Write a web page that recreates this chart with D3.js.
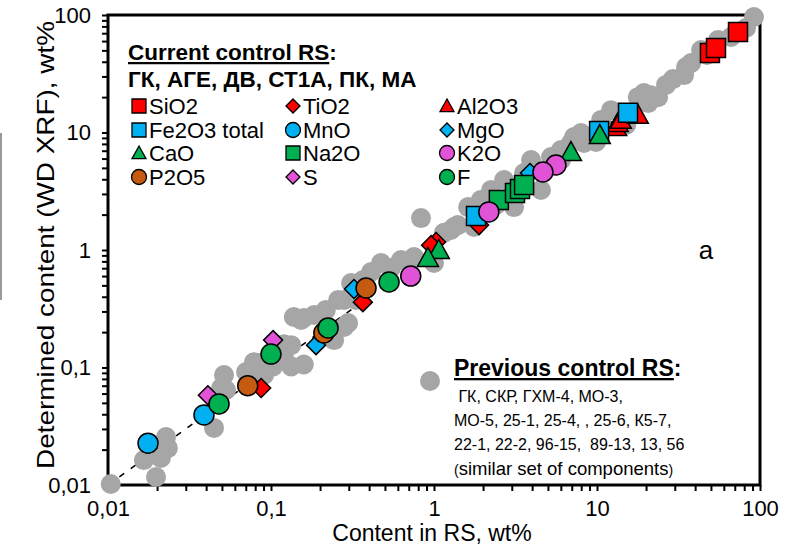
<!DOCTYPE html>
<html>
<head>
<meta charset="utf-8">
<script src="https://cdn.jsdelivr.net/npm/d3@7"></script>
<style>
body { margin: 0; background: #fff; }
svg { font-family: Arial, "Liberation Sans", sans-serif; }
</style>
</head>
<body>
<div id="chartDiv"></div>
<script>
// tick labels (comma decimals as in the original)
var tickVals = [0.01, 0.1, 1, 10, 100];
var tickLabels = ["0,01", "0,1", "1", "10", "100"];

// previous control RS (grey cloud): [content in RS, determined]
var previous = [
    [0.0104, 0.0102], [0.0197, 0.0117], [0.0166, 0.0163], [0.0211, 0.0170], [0.0227, 0.0256],
    [0.0233, 0.0206], [0.0447, 0.0306], [0.0494, 0.0669], [0.0515, 0.0863], [0.053, 0.0644],
    [0.0703, 0.0916], [0.0786, 0.111], [0.0832, 0.109], [0.0906, 0.0863], [0.103, 0.102],
    [0.120, 0.158], [0.120, 0.123], [0.133, 0.102], [0.133, 0.155], [0.159, 0.106],
    [0.159, 0.264], [0.153, 0.254], [0.138, 0.269], [0.184, 0.280], [0.244, 0.171],
    [0.258, 0.375], [0.281, 0.221], [0.297, 0.239], [0.281, 0.375], [0.217, 0.309],
    [0.332, 0.375], [0.367, 0.555], [0.310, 0.524], [0.411, 0.650], [0.473, 0.775],
    [0.545, 0.703], [0.628, 0.822], [0.754, 0.872], [0.832, 1.87], [1.0, 0.775],
    [1.15, 1.40], [1.27, 1.48], [1.33, 1.57], [1.40, 1.63], [1.62, 2.32], [1.76, 1.57],
    [1.94, 2.67], [2.24, 3.24], [2.40, 2.42], [2.69, 3.94], [3.10, 2.32], [3.57, 4.52],
    [3.94, 5.83], [4.53, 3.24], [5.22, 6.19], [6.01, 5.83], [6.01, 7.1], [6.92, 8.14],
    [7.22, 9.16], [7.98, 9.9], [8.32, 8.14], [9.86, 8.3], [10.6, 12.8], [12.2, 15.5],
    [14.0, 14.7], [15.1, 11.6], [17.8, 20.0], [19.4, 21.7], [20.6, 17.8], [21.4, 20.8],
    [23.7, 20.0], [26.5, 25.4], [29.2, 28.5], [34.2, 30.8], [35.2, 36.1], [37.8, 39.0],
    [43.5, 50.3], [47.3, 45.7], [55.2, 61.3], [66.4, 65.0], [82.1, 77.5], [91.8, 96.2]
];

// current control RS, one array per component
var sio2 = [[49.3, 47.5], [53.7, 52.4], [73.3, 71.7]];
var tio2 = [[1.03, 1.17], [0.96, 1.10], [0.366, 0.36], [0.087, 0.067], [1.89, 1.63]];
var al2o3 = [[13.1, 11.1], [13.4, 12.0], [14.0, 12.8], [17.8, 14.1]];
var fe2o3 = [[15.5, 14.7], [10.3, 10.3], [1.81, 1.95]];
var mno = [[0.0388, 0.0395], [0.0176, 0.0227]];
var mgo = [[3.88, 4.52], [0.323, 0.466], [0.189, 0.155]];
var cao = [[6.92, 6.82], [10.4, 9.5], [1.07, 1.0], [0.918, 0.855]];
var na2o = [[2.50, 2.67], [3.14, 3.05], [3.37, 3.30], [3.57, 3.57]];
var k2o = [[5.60, 5.29], [4.66, 4.61], [2.17, 2.11], [0.72, 0.60]];
var p2o5 = [[0.383, 0.475], [0.211, 0.197], [0.072, 0.070]];
var sulf = [[0.103, 0.171], [0.041, 0.058]];
var fluor = [[0.224, 0.217], [0.10, 0.130], [0.048, 0.049], [0.530, 0.534]];

var seriesNames = ["SiO2", "TiO2", "Al2O3", "Fe2O3 total", "MnO", "MgO", "CaO", "Na2O", "K2O", "P2O5", "S", "F"];
var seriesData = [sio2, tio2, al2o3, fe2o3, mno, mgo, cao, na2o, k2o, p2o5, sulf, fluor];
var seriesShape = ["square", "diamond", "triangle", "square", "circle", "diamond", "triangle", "square", "circle", "circle", "diamond", "circle"];
var seriesColor = ["#ff0000", "#ff0000", "#ff0000", "#00b0f0", "#00b0f0", "#00b0f0", "#00b050", "#00b050", "#e052d6", "#c55a11", "#e052d6", "#00b050"];

var width = 798, height = 552;
// plot box (note: "top" is taken by window.top, so prefixed names)
var pLeft = 108, pRight = 760, pTop = 15, pBottom = 485;

var svg = d3.select("#chartDiv")
    .append("svg")
    .attr("width", width)
    .attr("height", height);

var x = d3.scaleLog().domain([0.01, 100]).range([pLeft, pRight]);
var y = d3.scaleLog().domain([0.01, 100]).range([pBottom, pTop]);

// marker shapes, sized by full width in px
function shapePath(shape, s) {
    var h = s / 2;
    if (shape == "square") return "M" + (-h) + "," + (-h) + "h" + s + "v" + s + "h" + (-s) + "Z";
    if (shape == "diamond") return "M0," + (-h) + "L" + h + ",0L0," + h + "L" + (-h) + ",0Z";
    if (shape == "triangle") return "M0," + (-h) + "L" + h + "," + (h * 0.8) + "L" + (-h) + "," + (h * 0.8) + "Z";
    return "M" + (-h) + ",0a" + h + "," + h + " 0 1,0 " + s + ",0a" + h + "," + h + " 0 1,0 " + (-s) + ",0Z";
}
var markSize = {square: 19, diamond: 19, triangle: 21, circle: 20};

// stray grey bar at the left edge of the original picture
svg.append("rect").attr("x", 0).attr("y", 133).attr("width", 2).attr("height", 167).attr("fill", "#9a9a9a");

// 1:1 dashed line
svg.append("line")
    .attr("x1", x(0.01)).attr("y1", y(0.01))
    .attr("x2", x(100)).attr("y2", y(100))
    .attr("stroke", "#000")
    .attr("stroke-width", 1.6)
    .attr("stroke-dasharray", "6,8");

// axes
var fmt = function (d) {
    var i = tickVals.indexOf(d);
    return i >= 0 ? tickLabels[i] : "";
};
var xAxis = svg.append("g")
    .attr("transform", "translate(0," + pBottom + ")")
    .call(d3.axisBottom(x).tickValues(x.ticks()).tickFormat(fmt).tickSize(6).tickPadding(9));
var yAxis = svg.append("g")
    .attr("transform", "translate(" + pLeft + ",0)")
    .call(d3.axisLeft(y).tickValues(y.ticks()).tickFormat(fmt).tickSize(6).tickPadding(11));

[xAxis, yAxis].forEach(function (ax) {
    ax.select(".domain").remove();
    ax.selectAll("line").attr("stroke", "#000").attr("stroke-width", 2);
    ax.selectAll("text")
        .style("font-size", "22px")
        .style("font-family", "Arial, 'Liberation Sans', sans-serif")
        .attr("fill", "#000");
});

// frame
svg.append("rect")
    .attr("x", pLeft).attr("y", pTop)
    .attr("width", pRight - pLeft).attr("height", pBottom - pTop)
    .attr("fill", "none")
    .attr("stroke", "#000")
    .attr("stroke-width", 3);

// previous control RS
svg.append("g")
    .selectAll("circle")
    .data(previous)
    .enter().append("circle")
    .attr("cx", function (d) { return x(d[0]); })
    .attr("cy", function (d) { return y(d[1]); })
    .attr("r", 10)
    .attr("fill", "#a6a6a6");

// current control RS
seriesData.forEach(function (data, i) {
    svg.append("g")
        .selectAll("path")
        .data(data)
        .enter().append("path")
        .attr("d", shapePath(seriesShape[i], markSize[seriesShape[i]]))
        .attr("transform", function (d) { return "translate(" + x(d[0]) + "," + y(d[1]) + ")"; })
        .attr("fill", seriesColor[i])
        .attr("stroke", "#000")
        .attr("stroke-width", 1.5);
});

// axis titles
svg.append("text")
    .attr("x", 432).attr("y", 541)
    .attr("text-anchor", "middle")
    .style("font-size", "23px")
    .text("Content  in RS, wt%");
svg.append("text")
    .attr("transform", "translate(54,245) rotate(-90)")
    .attr("text-anchor", "middle")
    .attr("textLength", 448)
    .attr("lengthAdjust", "spacingAndGlyphs")
    .style("font-size", "24px")
    .text("Determined content (WD XRF), wt%");

// panel letter
svg.append("text")
    .attr("x", 706).attr("y", 259)
    .attr("text-anchor", "middle")
    .style("font-size", "26px")
    .text("a");

// legend: current control RS
var t1 = svg.append("text").attr("x", 128).attr("y", 60)
    .style("font-size", "22.5px").style("font-weight", "bold");
t1.append("tspan").style("text-decoration", "underline").text("Current control RS");
t1.append("tspan").text(":");
svg.append("text").attr("x", 128).attr("y", 87)
    .style("font-size", "22.5px").style("font-weight", "bold")
    .text("ГК, АГЕ, ДВ, СТ1А, ПК, МА");

var legX = [139, 293, 447];
var legY = [106, 130, 153, 177];
var leg = svg.append("g");
seriesNames.forEach(function (name, i) {
    var cx = legX[i % 3], cy = legY[Math.floor(i / 3)];
    leg.append("path")
        .attr("d", shapePath(seriesShape[i], seriesShape[i] == "circle" ? 15 : 14))
        .attr("transform", "translate(" + cx + "," + cy + ")")
        .attr("fill", seriesColor[i])
        .attr("stroke", "#000")
        .attr("stroke-width", 1.3);
    leg.append("text")
        .attr("x", cx + 10).attr("y", cy + 8)
        .style("font-size", "22px")
        .text(name);
});

// legend: previous control RS
svg.append("circle").attr("cx", 430).attr("cy", 381).attr("r", 10).attr("fill", "#a6a6a6");
var t2 = svg.append("text").attr("x", 454).attr("y", 376)
    .style("font-size", "23px").style("font-weight", "bold");
t2.append("tspan").style("text-decoration", "underline").text("Previous control RS");
t2.append("tspan").text(":");
var prevLines = [" ГК, СКР, ГХМ-4, МО-3,", "МО-5, 25-1, 25-4, , 25-6, К5-7,", "22-1, 22-2, 96-15,  89-13, 13, 56"];
prevLines.forEach(function (line, i) {
    svg.append("text")
        .attr("x", 454).attr("y", 402 + i * 24)
        .style("white-space", "pre")
        .style("font-size", "16px")
        .text(line);
});
var t3 = svg.append("text").attr("x", 454).attr("y", 475).style("font-size", "18.5px");
t3.append("tspan").style("font-size", "14px").text("(");
t3.append("tspan").text("similar set of components");
t3.append("tspan").style("font-size", "14px").text(")");
</script>
</body>
</html>
